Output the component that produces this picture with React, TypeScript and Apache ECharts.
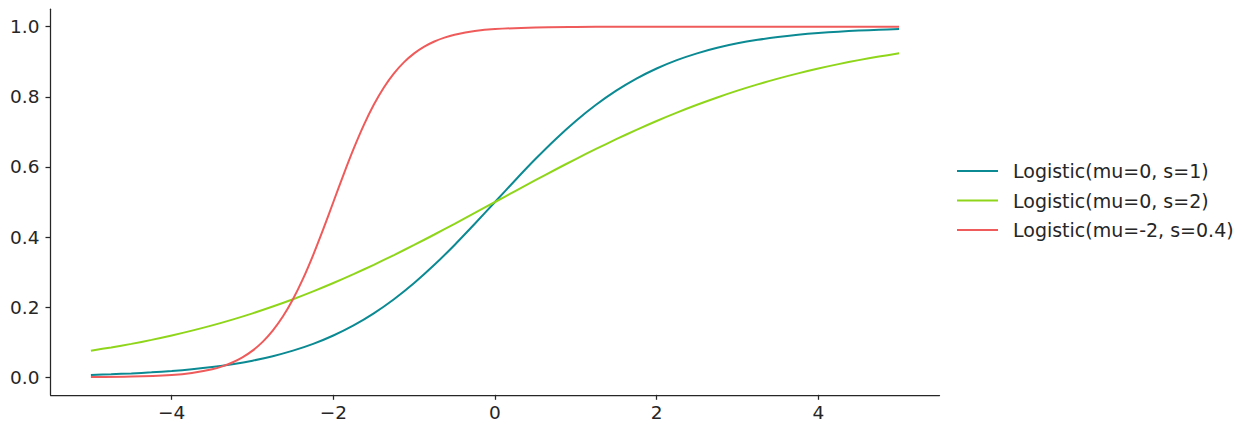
import React, { useEffect, useRef } from "react";
import * as echarts from "echarts";

const seriesNames = ["Logistic(mu=0, s=1)", "Logistic(mu=0, s=2)", "Logistic(mu=-2, s=0.4)"];
const seriesColors = ["#0b8a93", "#8fd61a", "#ef5b5b"];

const xTicks = [-4, -2, 0, 2, 4];
const yTicks = [0, 0.2, 0.4, 0.6, 0.8, 1.0];

// shared x sample points for the two wide curves
const xWide = [
  -5, -4.75, -4.5, -4.25, -4, -3.75, -3.5, -3.25, -3, -2.75, -2.5, -2.25, -2, -1.75, -1.5, -1.25, -1,
  -0.75, -0.5, -0.25, 0, 0.25, 0.5, 0.75, 1, 1.25, 1.5, 1.75, 2, 2.25, 2.5, 2.75, 3, 3.25, 3.5, 3.75,
  4, 4.25, 4.5, 4.75, 5,
];
const ySigma1 = [
  0.0067, 0.0086, 0.011, 0.0141, 0.018, 0.023, 0.0293, 0.0374, 0.0474, 0.0601, 0.0759, 0.0953, 0.1192,
  0.148, 0.1824, 0.2227, 0.2689, 0.3208, 0.3775, 0.4378, 0.5, 0.5622, 0.6225, 0.6792, 0.7311, 0.7773,
  0.8176, 0.852, 0.8808, 0.9047, 0.9241, 0.9399, 0.9526, 0.9626, 0.9707, 0.977, 0.982, 0.9859, 0.989,
  0.9914, 0.9933,
];
const ySigma2 = [
  0.0759, 0.0851, 0.0953, 0.1067, 0.1192, 0.133, 0.148, 0.1645, 0.1824, 0.2018, 0.2227, 0.2451, 0.2689,
  0.2942, 0.3208, 0.3487, 0.3775, 0.4073, 0.4378, 0.4688, 0.5, 0.5312, 0.5622, 0.5927, 0.6225, 0.6513,
  0.6792, 0.7058, 0.7311, 0.7549, 0.7773, 0.7982, 0.8176, 0.8355, 0.852, 0.867, 0.8808, 0.8933, 0.9047,
  0.9149, 0.9241,
];

// x sample points for the steep curve
const xSteep = [
  -5, -4.5, -4, -3.75, -3.5, -3.375, -3.25, -3.125, -3, -2.875, -2.75, -2.625, -2.5, -2.375, -2.25,
  -2.125, -2, -1.875, -1.75, -1.625, -1.5, -1.375, -1.25, -1.125, -1, -0.875, -0.75, -0.625, -0.5,
  -0.25, 0, 0.5, 1, 1.5, 2, 3, 4, 5,
];
const ySteep = [
  0.00055, 0.00193, 0.0067, 0.0124, 0.023, 0.0311, 0.0421, 0.0567, 0.0759, 0.1009, 0.133, 0.1733,
  0.2227, 0.2814, 0.3487, 0.4225, 0.5, 0.5775, 0.6513, 0.7186, 0.7773, 0.8267, 0.867, 0.8991, 0.9241,
  0.9433, 0.9579, 0.9689, 0.977, 0.9876, 0.9933, 0.9981, 0.99945, 0.99984, 0.99995, 1.0, 1.0, 1.0,
];

const FONT = "DejaVu Sans";
const TEXT = "#262626";

export default function App() {
  const ref = useRef<HTMLDivElement>(null);
  useEffect(() => {
    if (!ref.current) return;
    const chart = echarts.init(ref.current, undefined, { renderer: "svg" });
    const xs = [xWide, xWide, xSteep];
    const ys = [ySigma1, ySigma2, ySteep];
    chart.setOption({
      animation: false,
      textStyle: { fontFamily: FONT, color: TEXT },
      grid: { left: 50.5, right: 310.5, top: 9.2, bottom: 39.2, containLabel: false },
      legend: {
        orient: "vertical",
        left: 952,
        top: 156,
        icon: "rect",
        itemWidth: 41,
        itemHeight: 2,
        itemGap: 9.5,
        textStyle: { fontFamily: FONT, fontSize: 19, color: TEXT, lineHeight: 20, padding: [0, 0, 0, 10] },
        data: seriesNames,
      },
      xAxis: {
        type: "value",
        min: -5.5,
        max: 5.5,
        splitLine: { show: false },
        axisLine: { show: true, onZero: false, lineStyle: { color: TEXT, width: 1.25 } },
        axisTick: { show: true, length: 5, customValues: xTicks, lineStyle: { color: TEXT, width: 1.25 } },
        axisLabel: {
          customValues: xTicks,
          fontFamily: FONT,
          fontSize: 18.5,
          color: TEXT,
          margin: 8,
          formatter: (v: number) => String(v).replace("-", "\u2212"),
        },
      },
      yAxis: {
        type: "value",
        min: -0.05,
        max: 1.05,
        splitLine: { show: false },
        axisLine: { show: true, onZero: false, lineStyle: { color: TEXT, width: 1.25 } },
        axisTick: { show: true, length: 5, customValues: yTicks, lineStyle: { color: TEXT, width: 1.25 } },
        axisLabel: {
          customValues: yTicks,
          fontFamily: FONT,
          fontSize: 18.5,
          color: TEXT,
          margin: 11,
          formatter: (v: number) => v.toFixed(1),
        },
      },
      series: seriesNames.map((name, i) => ({
        name,
        type: "line",
        smooth: 0.3,
        showSymbol: false,
        symbol: "none",
        color: seriesColors[i],
        lineStyle: { width: 2, color: seriesColors[i] },
        itemStyle: { color: seriesColors[i] },
        data: xs[i].map((x, j) => [x, ys[i][j]]),
      })),
    });
    return () => chart.dispose();
  }, []);
  return (
    <div
      ref={ref}
      style={{ position: "fixed", left: 0, top: 0, width: 1250, height: 434, background: "#fff" }}
    />
  );
}
